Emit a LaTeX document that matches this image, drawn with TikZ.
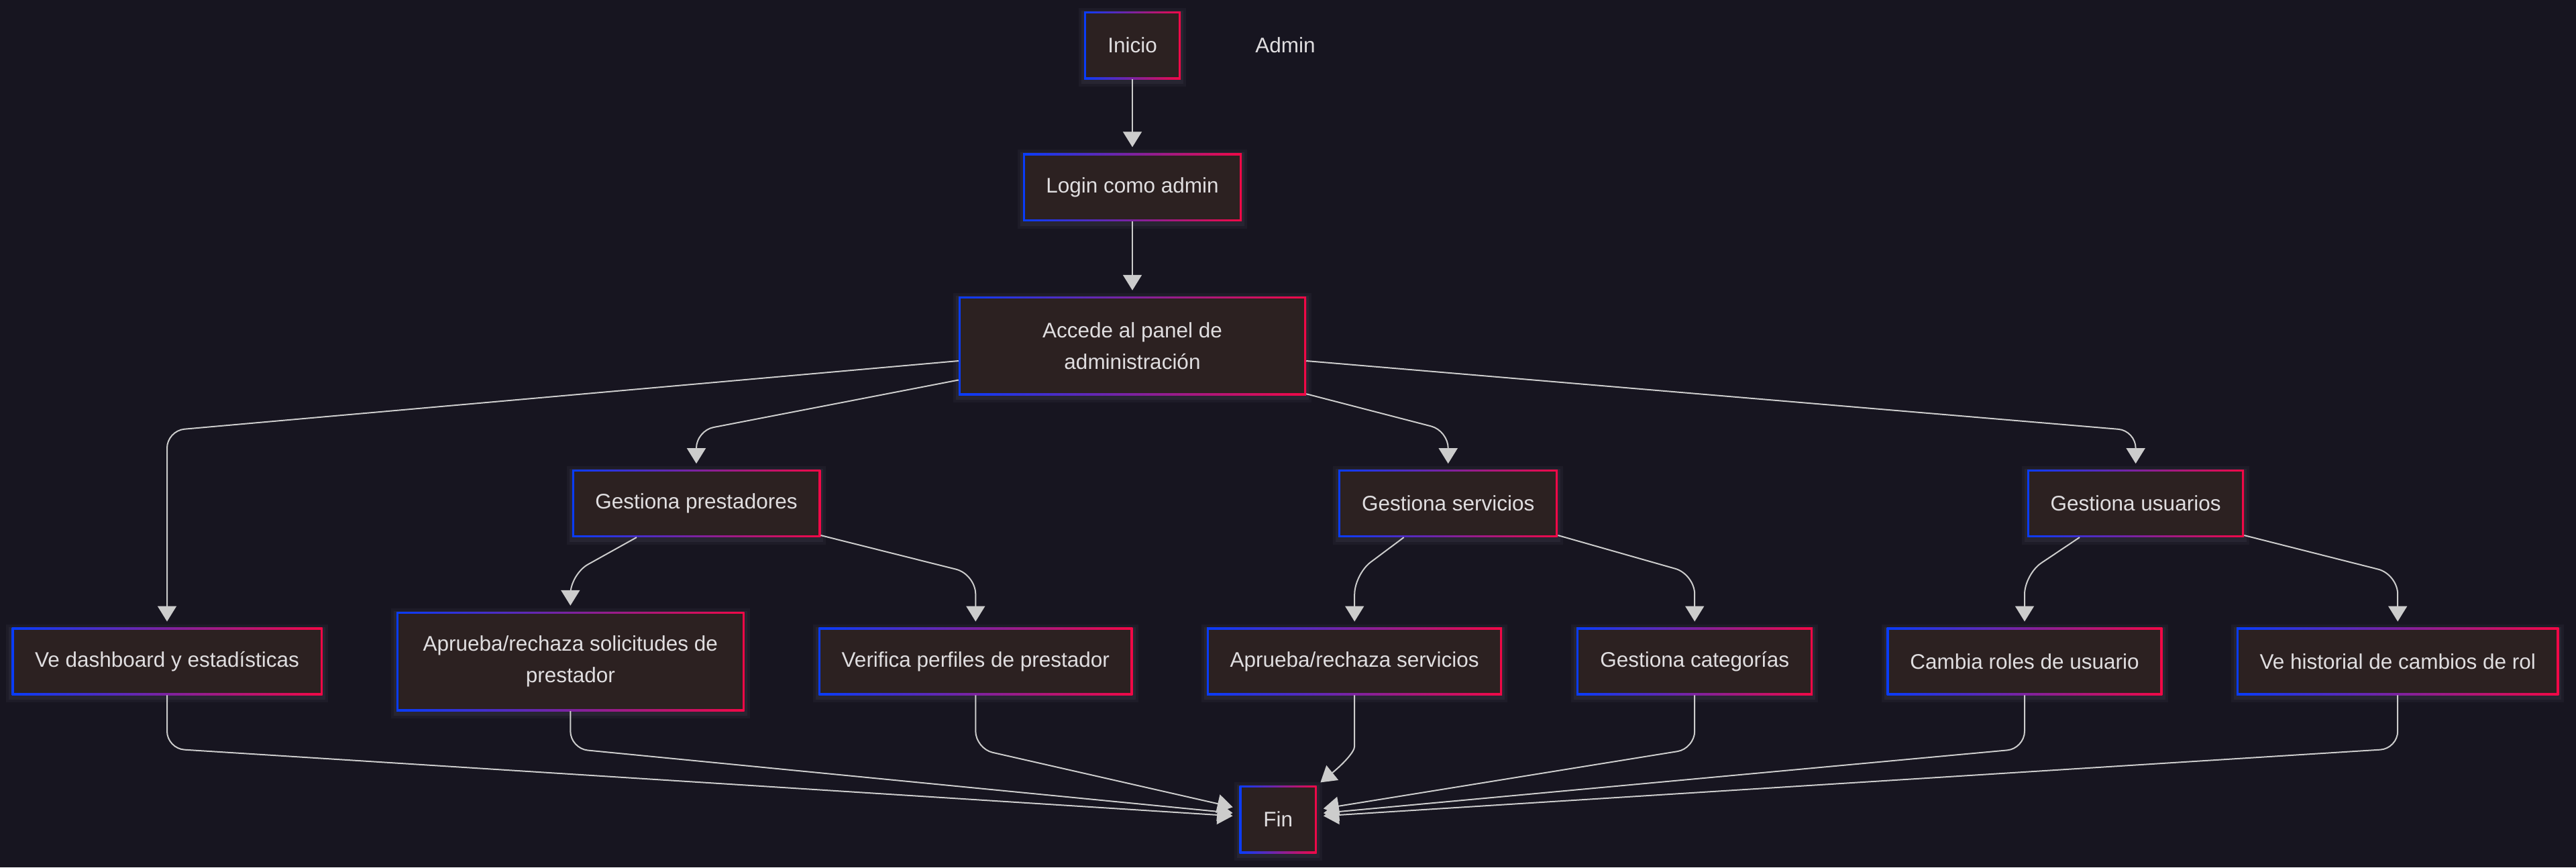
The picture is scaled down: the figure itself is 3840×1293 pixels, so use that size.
\documentclass[tikz,border=0pt]{standalone}
\usepackage{fontspec}
\setmainfont{Liberation Sans}
\usetikzlibrary{arrows.meta,calc}
\pgfdeclarelayer{bg}
\pgfsetlayers{bg,main}
\definecolor{bgc}{RGB}{23,21,32}
\definecolor{boxc}{RGB}{44,33,33}
\definecolor{gblue}{RGB}{8,60,250}
\definecolor{gred}{RGB}{242,8,70}
\definecolor{edgec}{RGB}{204,204,204}
\definecolor{txtc}{RGB}{224,222,224}
\definecolor{glowc}{RGB}{150,148,170}
\begin{document}
\begin{tikzpicture}[x=1pt,y=-1pt,
  every node/.style={font=\fontsize{31.5}{46.7}\selectfont, text=txtc},
  gbox/.style 2 args={rectangle, inner sep=0pt, minimum width=#1pt, minimum height=#2pt, align=center,
     left color=gblue, right color=gred,
     path picture={\fill[boxc] ([shift={(3pt,3pt)}]path picture bounding box.south west) rectangle ([shift={(-3pt,-3pt)}]path picture bounding box.north east);}},
  glowa/.style={draw=glowc, draw opacity=0.06, line width=16pt},
  glowb/.style={draw=glowc, draw opacity=0.08, line width=8pt},
  edge/.style={draw=edgec, line width=2pt, -{Triangle[length=23pt,width=28pt]}, shorten >=9pt, rounded corners=26pt},
]
\begin{pgfonlayer}{bg}
\fill[bgc] (0,0) rectangle (3840,1293);
\end{pgfonlayer}
\useasboundingbox (0,0) rectangle (3840,1293);

\coordinate (r1) at (0,642);
\coordinate (r2) at (0,856);
\coordinate (r3) at (0,1116);

\node[gbox={144}{101}] (inicio) at (1688,67.5) {Inicio};
\node (admin) at (1916,67) {Admin};
\node[gbox={326}{101}] (login) at (1688,279) {Login como admin};
\node[gbox={518}{147}] (accede) at (1688,515.5) {Accede al panel de\\administración};
\node[gbox={370.5}{100.5}] (prest) at (1038,750.6) {Gestiona prestadores};
\node[gbox={327}{100.5}] (serv) at (2158.7,750.6) {Gestiona servicios};
\node[gbox={323}{100.5}] (usu) at (3183.6,750.6) {Gestiona usuarios};
\node[gbox={463}{100.5}] (dash) at (249,986) {Ve dashboard y estadísticas};
\node[gbox={518.5}{148}] (sol) at (850.3,986) {Aprueba/rechaza solicitudes de\\prestador};
\node[gbox={468}{100.5}] (ver) at (1454.3,986) {Verifica perfiles de prestador};
\node[gbox={440}{100.5}] (aprs) at (2019.2,986) {Aprueba/rechaza servicios};
\node[gbox={352}{100.5}] (cat) at (2526.2,986) {Gestiona categorías};
\node[gbox={410.6}{100.5}] (rol) at (3018,986) {Cambia roles de usuario};
\node[gbox={480}{100.5}] (his) at (3574.2,986) {Ve historial de cambios de rol};
\node[gbox={115}{101}] (fin) at (1905.2,1221.5) {Fin};

\begin{pgfonlayer}{bg}
\foreach \n in {inicio,login,accede,prest,serv,usu,dash,sol,ver,aprs,cat,rol,his,fin}{
  \draw[glowa] ([shift={(0pt,-3pt)}]\n.north west) rectangle ([shift={(0pt,-3pt)}]\n.south east);
  \draw[glowb] ([shift={(0pt,-3pt)}]\n.north west) rectangle ([shift={(0pt,-3pt)}]\n.south east);
}
\end{pgfonlayer}

\draw[edge] (inicio) -- (login);
\draw[edge] (login) -- (accede);

\draw[edge] ($(accede.west)+(0,22.5)$) -- (dash.north |- r1) -- (dash.north);
\draw[edge] ($(accede.west)+(0,51)$) -- (prest.north |- r1) -- (prest.north);
\draw[edge] ($(accede.south east)+(0,-2)$) -- (serv.north |- r1) -- (serv.north);
\draw[edge] ($(accede.east)+(0,22.5)$) -- (usu.north |- r1) -- (usu.north);

\draw[edge, rounded corners=30pt] ($(prest.south)+(-89,0)$) -- (sol.north |- r2) -- (sol.north);
\draw[edge, rounded corners=30pt] ($(prest.south east)+(0,-3)$) -- (ver.north |- r2) -- (ver.north);
\draw[edge, rounded corners=30pt] ($(serv.south)+(-66,0)$) -- (aprs.north |- r2) -- (aprs.north);
\draw[edge, rounded corners=30pt] ($(serv.south east)+(0,-3)$) -- (cat.north |- r2) -- (cat.north);
\draw[edge, rounded corners=30pt] ($(usu.south)+(-83.6,0)$) -- (rol.north |- r2) -- (rol.north);
\draw[edge, rounded corners=30pt] ($(usu.south east)+(0,-3)$) -- (his.north |- r2) -- (his.north);

\draw[edge, shorten >=10pt] (dash.south) -- (dash.south |- r3) -- ($(fin.west)+(0,-4.5)$);
\draw[edge, shorten >=10pt] (sol.south) -- (sol.south |- r3) -- ($(fin.west)+(0,-8.5)$);
\draw[edge, shorten >=10pt] (ver.south) -- (ver.south |- r3) -- ($(fin.west)+(0,-16)$);
\draw[edge, shorten >=7pt] (aprs.south) -- ++(0,50) .. controls +(0,35) and +(37,-30) .. (fin.north east);
\draw[edge, shorten >=10pt] (cat.south) -- (cat.south |- r3) -- ($(fin.east)+(0,-14.5)$);
\draw[edge, shorten >=10pt] (rol.south) -- (rol.south |- r3) -- ($(fin.east)+(0,-8.5)$);
\draw[edge, shorten >=10pt] (his.south) -- (his.south |- r3) -- ($(fin.east)+(0,-4.5)$);
\end{tikzpicture}
\end{document}
